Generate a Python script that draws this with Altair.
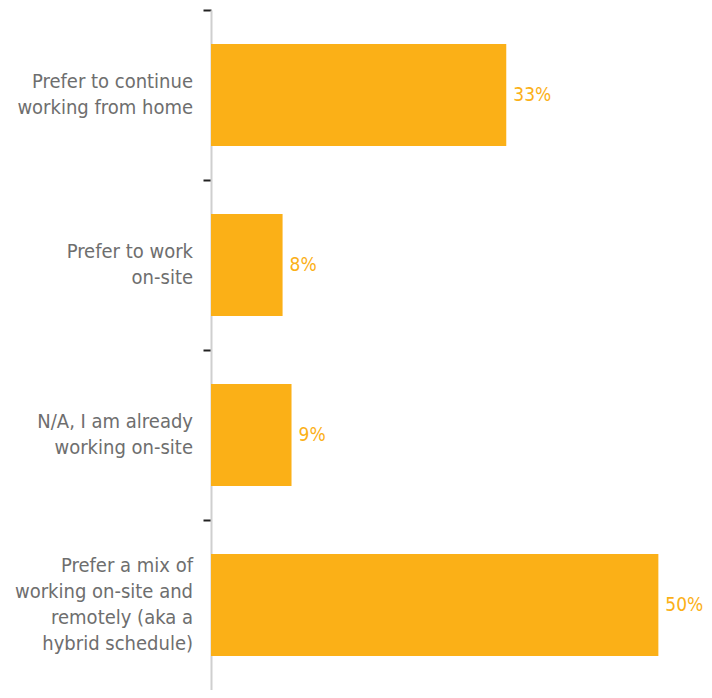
import altair as alt
import pandas as pd

categories = [
    "Prefer to continue|working from home",
    "Prefer to work|on-site",
    "N/A, I am already|working on-site",
    "Prefer a mix of|working on-site and|remotely (aka a|hybrid schedule)",
]
values = [33, 8, 9, 50]
value_labels = ["33%", "8%", "9%", "50%"]

HEIGHT = 680
LINE_H = 26
STEP = HEIGHT / len(categories)
BAND = STEP * 0.6
df = pd.DataFrame({"cat": categories, "val": values, "lab": value_labels})
df["off"] = [BAND / 2 - c.count("|") * LINE_H / 2 for c in categories]

FONT = "'DejaVu Sans Condensed', 'Liberation Sans Narrow', Roboto, sans-serif"
ORANGE = "#FBB017"

ysc = alt.Scale(paddingInner=0.4, paddingOuter=0.2)
y = alt.Y(
    "cat:N",
    sort=categories,
    title=None,
    scale=ysc,
    axis=alt.Axis(
        tickOffset=-STEP / 2,
        labels=False,
        tickColor="#222222",
        tickWidth=2,
        tickSize=8,
        domainColor="#cfcfcf",
        domainWidth=2,
        grid=False,
    ),
)
x = alt.X("val:Q", scale=alt.Scale(domain=[0, 55.1]), axis=None)

bars = alt.Chart(df).mark_bar(color=ORANGE).encode(x=x, y=y)
text = alt.Chart(df).mark_text(
    align="left", baseline="middle", dx=7, font=FONT, fontSize=19, color=ORANGE
).encode(x=x, y=alt.Y("cat:N", sort=categories), text="lab:N")
cat_labels = alt.Chart(df).mark_text(
    align="right", baseline="middle", font=FONT, fontSize=20, color="#6e6e6e",
    lineBreak="|", lineHeight=LINE_H,
).encode(
    x=alt.value(-18),
    y=alt.Y("cat:N", sort=categories),
    yOffset=alt.YOffset("off:Q", scale=None),
    text="cat:N",
)

chart = (
    alt.layer(bars, text, cat_labels)
    .properties(
        width=493,
        height=HEIGHT,
        autosize=alt.AutoSizeParams(type="none"),
        padding={"left": 203, "top": 2, "right": 0, "bottom": 0},
        view=alt.ViewBackground(stroke=None, strokeWidth=0),
    )
    .configure_view(stroke=None, strokeWidth=0)
    .configure_axis(grid=False)
    .configure_axisX(grid=False, domain=False, ticks=False, labels=False)
    .configure(background="white")
)

chart.save("out.html", embed_options={"renderer": "svg", "actions": False})
